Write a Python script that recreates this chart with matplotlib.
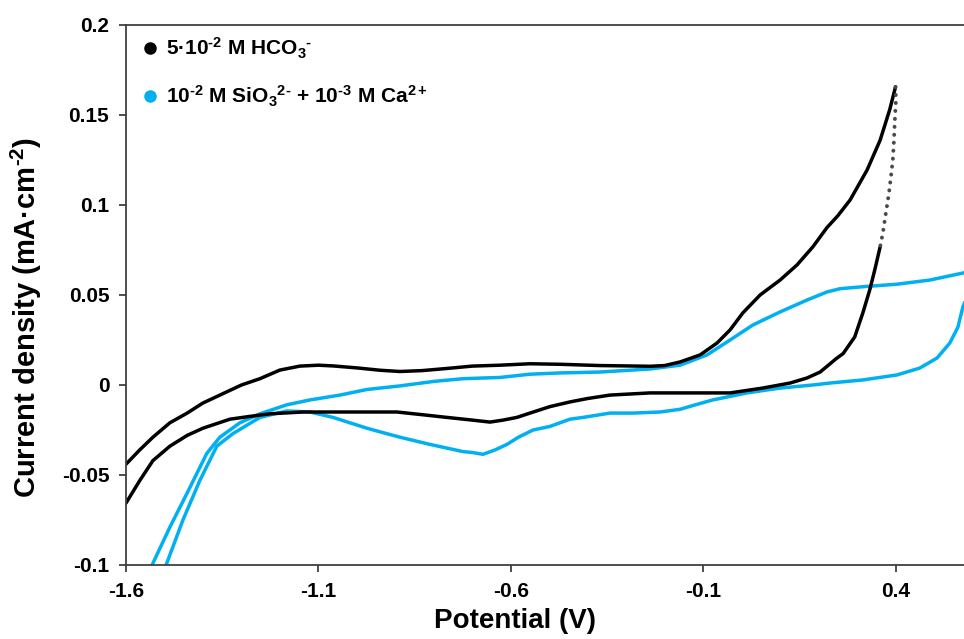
import matplotlib
matplotlib.use("Agg")
import matplotlib.pyplot as plt
from matplotlib.lines import Line2D

plt.rcParams['font.family'] = ['Liberation Sans', 'DejaVu Sans']
plt.rcParams['font.weight'] = 'bold'
plt.rcParams['axes.unicode_minus'] = False
plt.rcParams['mathtext.fontset'] = 'custom'
plt.rcParams['mathtext.rm'] = 'Liberation Sans:bold'
plt.rcParams['mathtext.it'] = 'Liberation Sans:bold'
plt.rcParams['mathtext.bf'] = 'Liberation Sans:bold'
plt.rcParams['mathtext.default'] = 'rm'

# ---------------- data ----------------
# 5e-2 M HCO3- : forward (anodic) sweep
hco3_fwd_x = [-1.600, -1.564, -1.530, -1.486, -1.441, -1.400, -1.356, -1.300, -1.252, -1.200,
              -1.148, -1.100, -1.062, -1.000, -0.940, -0.888, -0.830, -0.760, -0.700, -0.628,
              -0.550, -0.470, -0.368, -0.300, -0.238, -0.200, -0.160, -0.108, -0.064, -0.030,
              0.003, 0.048, 0.100, 0.144, 0.185, 0.222, 0.250, 0.282, 0.326, 0.360, 0.385, 0.400]
hco3_fwd_y = [-0.044, -0.036, -0.029, -0.021, -0.0156, -0.010, -0.0056, 0.0000, 0.0035, 0.0083,
              0.0105, 0.0110, 0.0106, 0.0095, 0.0082, 0.0075, 0.0080, 0.0093, 0.0105, 0.0110,
              0.0118, 0.0115, 0.0108, 0.0106, 0.0104, 0.0108, 0.0128, 0.0167, 0.0233, 0.0306,
              0.0400, 0.0500, 0.0583, 0.0667, 0.0767, 0.0875, 0.0940, 0.1028, 0.1194, 0.1360, 0.1530, 0.1656]
# fast reversal segment (sparse data points)
hco3_rev_fast_x = [0.400, 0.401, 0.398, 0.396, 0.393, 0.388, 0.383, 0.375, 0.367, 0.360]
hco3_rev_fast_y = [0.1656, 0.158, 0.146, 0.136, 0.125, 0.1156, 0.1067, 0.0956, 0.0844, 0.0767]
# reverse (cathodic) sweep
hco3_rev_x = [0.360, 0.346, 0.333, 0.315, 0.294, 0.264, 0.245, 0.230, 0.204, 0.170,
              0.126, 0.055, -0.030, -0.160, -0.238, -0.342, -0.400, -0.446, -0.498,
              -0.550, -0.584, -0.620, -0.654, -0.700, -0.766, -0.830, -0.896, -0.960, -1.062,
              -1.140, -1.226, -1.280, -1.330, -1.400, -1.441, -1.486, -1.530, -1.564, -1.600]
hco3_rev_y = [0.0767, 0.0639, 0.0528, 0.0400, 0.0267, 0.0175, 0.0145, 0.0118, 0.0072, 0.0039,
              0.0011, -0.0017, -0.0044, -0.0044, -0.0044, -0.0056, -0.0075, -0.0094, -0.0120,
              -0.0156, -0.0180, -0.0195, -0.0206, -0.0195, -0.0180, -0.0165, -0.0150, -0.0150, -0.0150,
              -0.0150, -0.0160, -0.0175, -0.0190, -0.0240, -0.0280, -0.0340, -0.0420, -0.0530, -0.0656]

# 1e-2 M SiO3 2- + 1e-3 M Ca2+ : forward sweep
si_fwd_x = [-1.540, -1.530, -1.486, -1.441, -1.390, -1.356, -1.304, -1.252, -1.182, -1.122,
            -1.044, -0.974, -0.888, -0.800, -0.724, -0.628, -0.550, -0.472, -0.368, -0.238,
            -0.160, -0.090, -0.030, 0.029, 0.100, 0.170, 0.222, 0.256, 0.315, 0.404,
            0.489, 0.575, 0.600]
si_fwd_y = [-0.105, -0.099, -0.079, -0.060, -0.038, -0.029, -0.021, -0.016, -0.011, -0.0083,
            -0.0056, -0.0025, -0.0005, 0.0020, 0.0035, 0.0042, 0.0060, 0.0067, 0.0072, 0.0089,
            0.0110, 0.0167, 0.0250, 0.0333, 0.0406, 0.0472, 0.0517, 0.0535, 0.0546, 0.0560,
            0.0583, 0.0622, 0.0635]
# reverse sweep
si_rev_x = [0.580, 0.575, 0.562, 0.541, 0.508, 0.463, 0.404, 0.315, 0.230, 0.185,
            0.100, 0.014, -0.075, -0.120, -0.160, -0.212, -0.282, -0.342, -0.412, -0.446,
            -0.498, -0.542, -0.580, -0.610, -0.640, -0.672, -0.700, -0.724, -0.810, -0.888,
            -0.940, -0.974, -1.062, -1.122, -1.182, -1.252, -1.322, -1.364, -1.408, -1.452,
            -1.494, -1.505]
si_rev_y = [0.0460, 0.0433, 0.0320, 0.0233, 0.0150, 0.0094, 0.0056, 0.0028, 0.0011, 0.0000,
            -0.0017, -0.0044, -0.0083, -0.0110, -0.0135, -0.0150, -0.0156, -0.0156, -0.0180, -0.0190,
            -0.0230, -0.0250, -0.0290, -0.0330, -0.0360, -0.0385, -0.0375, -0.0370, -0.0330, -0.0290,
            -0.0260, -0.0240, -0.0180, -0.0150, -0.0144, -0.0180, -0.0270, -0.0340, -0.0530, -0.0750,
            -0.0990, -0.1050]

x_ticks = [-1.6, -1.1, -0.6, -0.1, 0.4]
x_ticklabels = ['-1.6', '-1.1', '-0.6', '-0.1', '0.4']
y_ticks = [-0.1, -0.05, 0, 0.05, 0.1, 0.15, 0.2]
y_ticklabels = ['-0.1', '-0.05', '0', '0.05', '0.1', '0.15', '0.2']

labels = ['5·10$^{\u20102}$ M HCO$_{3}$$^{\u2010}$',
          '10$^{\u20102}$ M SiO$_{3}$$^{2\u2010}$ + 10$^{\u20103}$ M Ca$^{2+}$']

BLACK = '#000000'
BLUE = '#00B0F0'
AXC = '#404040'

# ---------------- figure ----------------
fig = plt.figure(figsize=(9.64, 6.39), dpi=100)
ax = fig.add_axes([126/964, 1 - 565/639, 1 - 126/964, (565 - 25)/639])

lw = 2.5
ax.plot(si_fwd_x, si_fwd_y, color=BLUE, lw=lw, solid_capstyle='round', solid_joinstyle='round')
ax.plot(si_rev_x, si_rev_y, color=BLUE, lw=lw, solid_capstyle='round', solid_joinstyle='round')
ax.plot(hco3_fwd_x, hco3_fwd_y, color=BLACK, lw=lw, solid_capstyle='round', solid_joinstyle='round')
ax.plot(hco3_rev_x, hco3_rev_y, color=BLACK, lw=lw, solid_capstyle='round', solid_joinstyle='round')
ax.plot(hco3_rev_fast_x, hco3_rev_fast_y, color='#4a4a4a', lw=2.8,
        linestyle=(0, (0.05, 2.0)), dash_capstyle='round')

ax.set_xlim(-1.6, 0.578)
ax.set_ylim(-0.1, 0.2)
ax.set_xticks(x_ticks)
ax.set_xticklabels(x_ticklabels)
ax.set_yticks(y_ticks)
ax.set_yticklabels(y_ticklabels)

for s in ['left', 'bottom', 'top']:
    ax.spines[s].set_color(AXC)
    ax.spines[s].set_linewidth(1.3)
ax.spines['right'].set_visible(False)
ax.tick_params(axis='both', direction='out', length=5, width=1.3, color=AXC,
               labelsize=15, pad=7)
for t in ax.get_xticklabels() + ax.get_yticklabels():
    t.set_fontweight('bold')

ax.set_xlabel('Potential (V)', fontsize=20, fontweight='bold')
ax.xaxis.set_label_coords(0.464, -0.080)
ax.set_ylabel('Current density (mA·cm$^{\u20102}$)', fontsize=21, fontweight='bold')
ax.yaxis.set_label_coords(-0.098, 0.459)

handles = [Line2D([], [], marker='o', ls='', color=BLACK, markersize=8),
           Line2D([], [], marker='o', ls='', color=BLUE, markersize=8)]
ax.legend(handles, labels, loc='upper left', bbox_to_anchor=(0.0, 1.005), frameon=False,
          prop={'size': 15, 'weight': 'bold'}, handletextpad=0.25, labelspacing=1.08,
          handlelength=1.0, borderaxespad=0.25)

fig.savefig('out.png', dpi=100)
